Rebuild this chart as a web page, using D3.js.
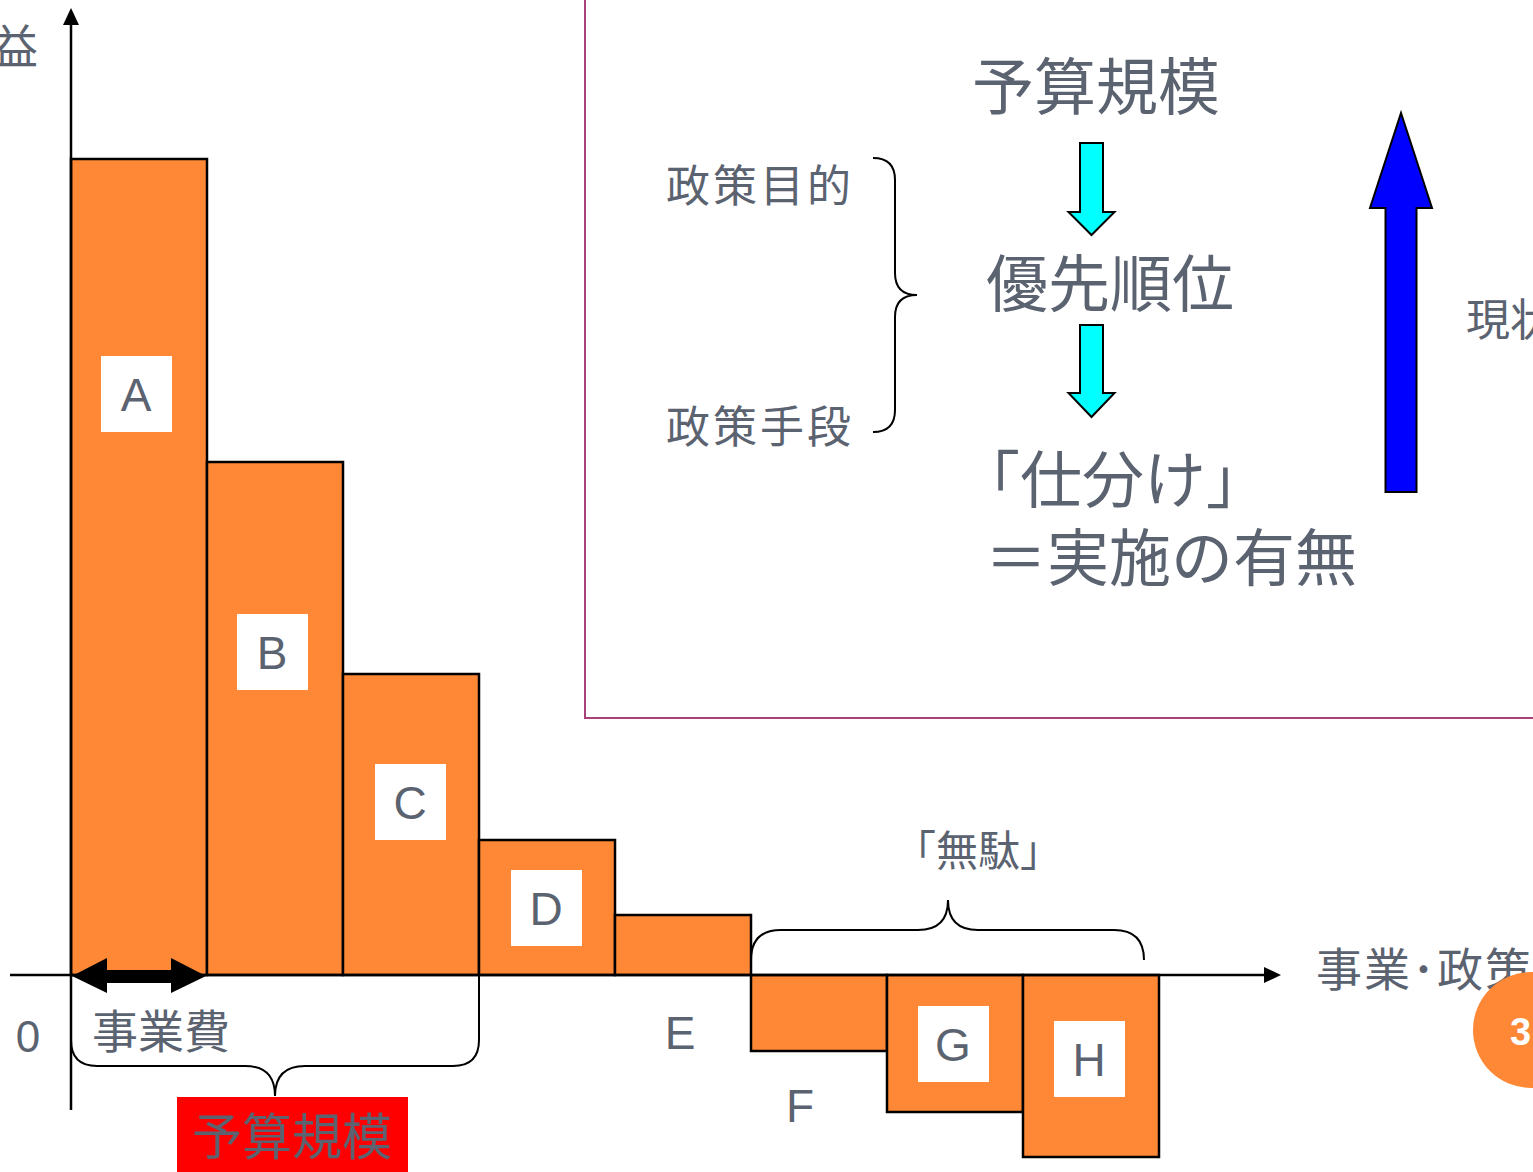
<!DOCTYPE html>
<html>
<head>
<meta charset="utf-8">
<script src="https://cdn.jsdelivr.net/npm/d3@7"></script>
<style>
  html, body { margin: 0; padding: 0; background: #fff; overflow: hidden; }
  svg { display: block; }
</style>
</head>
<body>
<svg id="chart" width="1533" height="1172"></svg>
<script>
// bar data (heights, arbitrary units: 1 unit = 10px)
var projects = ['A', 'B', 'C', 'D', 'E', 'F', 'G', 'H']
var benefit = [81.6, 51.3, 30.1, 13.5, 6.0, -7.6, -13.7, -18.2]
// where each letter sits, in the same units
var labelAt = [58.1, 32.3, 17.3, 6.7, -5.7, -13.0, -6.9, -8.4]
var boxed = [true, true, true, true, false, false, true, true]
var labelShift = [-3, -3, -1, -1, -3, -19, -2, -2]

var textGray = '#5b6371'
var orange = '#fe8836'
var jp = '"Noto Sans CJK JP", "Noto Sans", sans-serif'
var latin = '"Liberation Sans", Arial, sans-serif'

var svg = d3.select('#chart')

var x = d3.scaleBand().domain(projects).range([71, 1159]).padding(0)
var y = d3.scaleLinear().domain([0, 81.6]).range([975, 159])

// block arrow pointing up or down
var blockArrow = function (cx, from, to, shaftW, headW, headLen) {
  var dir = to > from ? 1 : -1
  var base = to - dir * headLen
  var p = d3.path()
  p.moveTo(cx - shaftW / 2, from)
  p.lineTo(cx - shaftW / 2, base)
  p.lineTo(cx - headW / 2, base)
  p.lineTo(cx, to)
  p.lineTo(cx + headW / 2, base)
  p.lineTo(cx + shaftW / 2, base)
  p.lineTo(cx + shaftW / 2, from)
  p.closePath()
  return p.toString()
}

// horizontal curly brace
var hBrace = function (x0, x1, yEnd, yMid, yTip, xm) {
  var r = Math.abs(yMid - yEnd)
  var c = Math.abs(yTip - yMid)
  var p = d3.path()
  p.moveTo(x0, yEnd)
  p.quadraticCurveTo(x0, yMid, x0 + r, yMid)
  p.lineTo(xm - c, yMid)
  p.quadraticCurveTo(xm, yMid, xm, yTip)
  p.quadraticCurveTo(xm, yMid, xm + c, yMid)
  p.lineTo(x1 - r, yMid)
  p.quadraticCurveTo(x1, yMid, x1, yEnd)
  return p.toString()
}

// ---- framed panel on the right ----
svg.append('rect')
  .attr('x', 585).attr('y', -5)
  .attr('width', 1000).attr('height', 723)
  .attr('fill', 'none')
  .attr('stroke', '#a8427a')
  .attr('stroke-width', 2)

// ---- bars ----
svg.append('g')
  .selectAll('rect')
  .data(benefit)
  .join('rect')
  .attr('x', (d, i) => x(projects[i]))
  .attr('width', x.bandwidth())
  .attr('y', (d) => Math.min(y(d), y(0)))
  .attr('height', (d) => Math.abs(y(d) - y(0)))
  .attr('fill', orange)
  .attr('stroke', '#000')
  .attr('stroke-width', 2.5)

// letter labels
var lab = svg.append('g')
  .selectAll('g')
  .data(projects)
  .join('g')
  .attr('transform', (d, i) => 'translate(' + (x(d) + x.bandwidth() / 2 + labelShift[i]) + ',' + y(labelAt[i]) + ')')

lab.filter((d, i) => boxed[i])
  .append('rect')
  .attr('x', -35).attr('y', -38)
  .attr('width', 71).attr('height', 76)
  .attr('fill', '#fff')

lab.append('text')
  .attr('text-anchor', 'middle')
  .attr('dy', '0.36em')
  .attr('font-family', latin)
  .attr('font-size', 46)
  .attr('fill', textGray)
  .text((d) => d)

// ---- axes ----
var axes = svg.append('g').attr('stroke', '#000').attr('stroke-width', 2.5)
axes.append('line').attr('x1', 10).attr('x2', 1266).attr('y1', y(0)).attr('y2', y(0))
axes.append('line').attr('x1', 71).attr('x2', 71).attr('y1', 1110).attr('y2', 22)
svg.append('path')
  .attr('d', 'M1281,' + y(0) + ' L1264,' + (y(0) - 8) + ' L1264,' + (y(0) + 8) + 'Z')
  .attr('fill', '#000')
svg.append('path')
  .attr('d', 'M71,8 L63,25 L79,25Z')
  .attr('fill', '#000')

// double arrow for 事業費
var dbl = d3.path()
dbl.moveTo(72, 976)
dbl.lineTo(107, 958)
dbl.lineTo(107, 970)
dbl.lineTo(171, 970)
dbl.lineTo(171, 958)
dbl.lineTo(206, 976)
dbl.lineTo(171, 993)
dbl.lineTo(171, 983)
dbl.lineTo(107, 983)
dbl.lineTo(107, 993)
dbl.closePath()
svg.append('path').attr('d', dbl.toString()).attr('fill', '#000')

// braces
svg.append('path')
  .attr('d', hBrace(x('A'), x('D'), 1040, 1066, 1096, 275))
  .attr('fill', 'none').attr('stroke', '#000').attr('stroke-width', 2)
svg.append('line')
  .attr('x1', x('D')).attr('x2', x('D')).attr('y1', y(0)).attr('y2', 1040)
  .attr('stroke', '#000').attr('stroke-width', 2)
svg.append('path')
  .attr('d', hBrace(x('F'), 1144, 960, 930, 900, 948))
  .attr('fill', 'none').attr('stroke', '#000').attr('stroke-width', 2)

// vertical brace in the panel
var vb = d3.path()
vb.moveTo(873, 158)
vb.quadraticCurveTo(895, 158, 895, 180)
vb.lineTo(895, 273)
vb.quadraticCurveTo(895, 295, 917, 295)
vb.quadraticCurveTo(895, 295, 895, 317)
vb.lineTo(895, 410)
vb.quadraticCurveTo(895, 432, 873, 432)
svg.append('path').attr('d', vb.toString())
  .attr('fill', 'none').attr('stroke', '#000').attr('stroke-width', 2)

// red budget box
svg.append('rect')
  .attr('x', 177).attr('y', 1097)
  .attr('width', 231).attr('height', 80)
  .attr('fill', '#ff0000')

// arrows in the panel
svg.append('path')
  .attr('d', blockArrow(1091.5, 143, 235, 23, 46, 23))
  .attr('fill', '#00ffff').attr('stroke', '#000').attr('stroke-width', 2)
svg.append('path')
  .attr('d', blockArrow(1091.5, 325, 417, 23, 46, 24))
  .attr('fill', '#00ffff').attr('stroke', '#000').attr('stroke-width', 2)
svg.append('path')
  .attr('d', blockArrow(1401, 492, 113, 31, 62, 95))
  .attr('fill', '#0000ff').attr('stroke', '#000').attr('stroke-width', 2)

// ---- texts ----
var texts = [
  { t: '便益', x: 38, y: 46, s: 46, a: 'end' },
  { t: '0', x: 28, y: 1036, s: 44, a: 'middle', f: latin },
  { t: '事業費', x: 161, y: 1031, s: 46, a: 'middle' },
  { t: '予算規模', x: 292, y: 1137, s: 50, a: 'middle' },
  { t: '「無駄」', x: 978, y: 851, s: 42, a: 'middle' },
  { t: '事業･政策', x: 1316, y: 969, s: 46, a: 'start', ls: 2 },
  { t: '予算規模', x: 1096, y: 88, s: 62, a: 'middle' },
  { t: '優先順位', x: 1110, y: 285, s: 62, a: 'middle' },
  { t: '「仕分け」', x: 958, y: 481, s: 62, a: 'start' },
  { t: '＝実施の有無', x: 985, y: 559, s: 62, a: 'start' },
  { t: '政策目的', x: 666, y: 186, s: 44, a: 'start', ls: 3 },
  { t: '政策手段', x: 666, y: 427, s: 44, a: 'start', ls: 3 },
  { t: '現状', x: 1466, y: 320, s: 44, a: 'start' }
]

svg.append('g')
  .selectAll('text')
  .data(texts)
  .join('text')
  .attr('x', (d) => d.x)
  .attr('y', (d) => d.y)
  .attr('dy', '0.36em')
  .attr('text-anchor', (d) => d.a)
  .attr('font-family', (d) => d.f || jp)
  .attr('font-size', (d) => d.s)
  .attr('letter-spacing', (d) => d.ls || 0)
  .attr('fill', textGray)
  .text((d) => d.t)

// page number disc, drawn over the axis title like the slide
svg.append('circle')
  .attr('cx', 1531).attr('cy', 1030).attr('r', 58)
  .attr('fill', orange)
svg.append('text')
  .attr('x', 1510).attr('y', 1031)
  .attr('dy', '0.36em')
  .attr('font-family', latin)
  .attr('font-weight', 'bold')
  .attr('font-size', 38)
  .attr('fill', '#fff')
  .text('3')
</script>
</body>
</html>
